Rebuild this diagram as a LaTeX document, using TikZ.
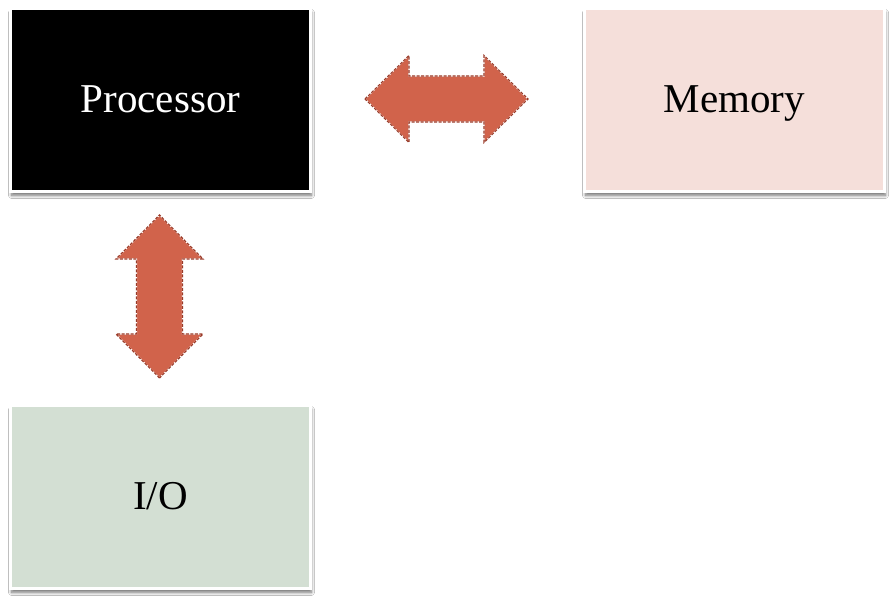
\documentclass[tikz,border=0pt]{standalone}
\usepackage{fontspec}
\setmainfont{Liberation Serif}
\usetikzlibrary{shadows.blur}
\definecolor{arrowfill}{HTML}{D1634B}
\definecolor{arrowline}{HTML}{9A3A28}
\definecolor{memfill}{HTML}{F5DFDA}
\definecolor{iofill}{HTML}{D3DFD3}
\tikzset{
  unitbox/.style={draw=white, line width=3pt, minimum width=300pt, minimum height=183pt,
    inner sep=0pt, text height=26pt, text depth=0pt, font=\fontsize{41}{49}\selectfont,
    blur shadow={shadow xshift=1pt, shadow yshift=-4pt, shadow blur steps=8, shadow blur radius=3pt, shadow opacity=55}},
  blockarrow/.pic={
    \path[fill=arrowfill] (-81.5pt,0) -- (-37.5pt,43.5pt) -- (-37.5pt,23pt) -- (37.5pt,23pt) -- (37.5pt,43.5pt)
      -- (81.5pt,0) -- (37.5pt,-43.5pt) -- (37.5pt,-23pt) -- (-37.5pt,-23pt) -- (-37.5pt,-43.5pt) -- cycle;
    \draw[white, line width=1.1pt] (-81.5pt,0) -- (-37.5pt,43.5pt) -- (-37.5pt,23pt) -- (37.5pt,23pt) -- (37.5pt,43.5pt)
      -- (81.5pt,0) -- (37.5pt,-43.5pt) -- (37.5pt,-23pt) -- (-37.5pt,-23pt) -- (-37.5pt,-43.5pt) -- cycle;
    \draw[arrowline, line width=1.1pt, dash pattern=on 3pt off 1.5pt] (-81.5pt,0) -- (-37.5pt,43.5pt) -- (-37.5pt,23pt) -- (37.5pt,23pt) -- (37.5pt,43.5pt)
      -- (81.5pt,0) -- (37.5pt,-43.5pt) -- (37.5pt,-23pt) -- (-37.5pt,-23pt) -- (-37.5pt,-43.5pt) -- cycle;
  }
}
\begin{document}
\begin{tikzpicture}[x=1pt,y=1pt]
\useasboundingbox[fill=white] (0,0) rectangle (895,604);
\node[unitbox, fill=black, text=white] (proc) at (160.5,504) {Processor};
\node[unitbox, fill=memfill] (mem) at (734.5,504) {Memory};
\node[unitbox, fill=iofill] (io) at (160.5,107) {I/O};
\coordinate (hbus) at (446.5,505);
\coordinate (vbus) at (159.5,307.5);
\pic at (hbus) {blockarrow};
\pic[rotate=90] at (vbus) {blockarrow};
\end{tikzpicture}
\end{document}
